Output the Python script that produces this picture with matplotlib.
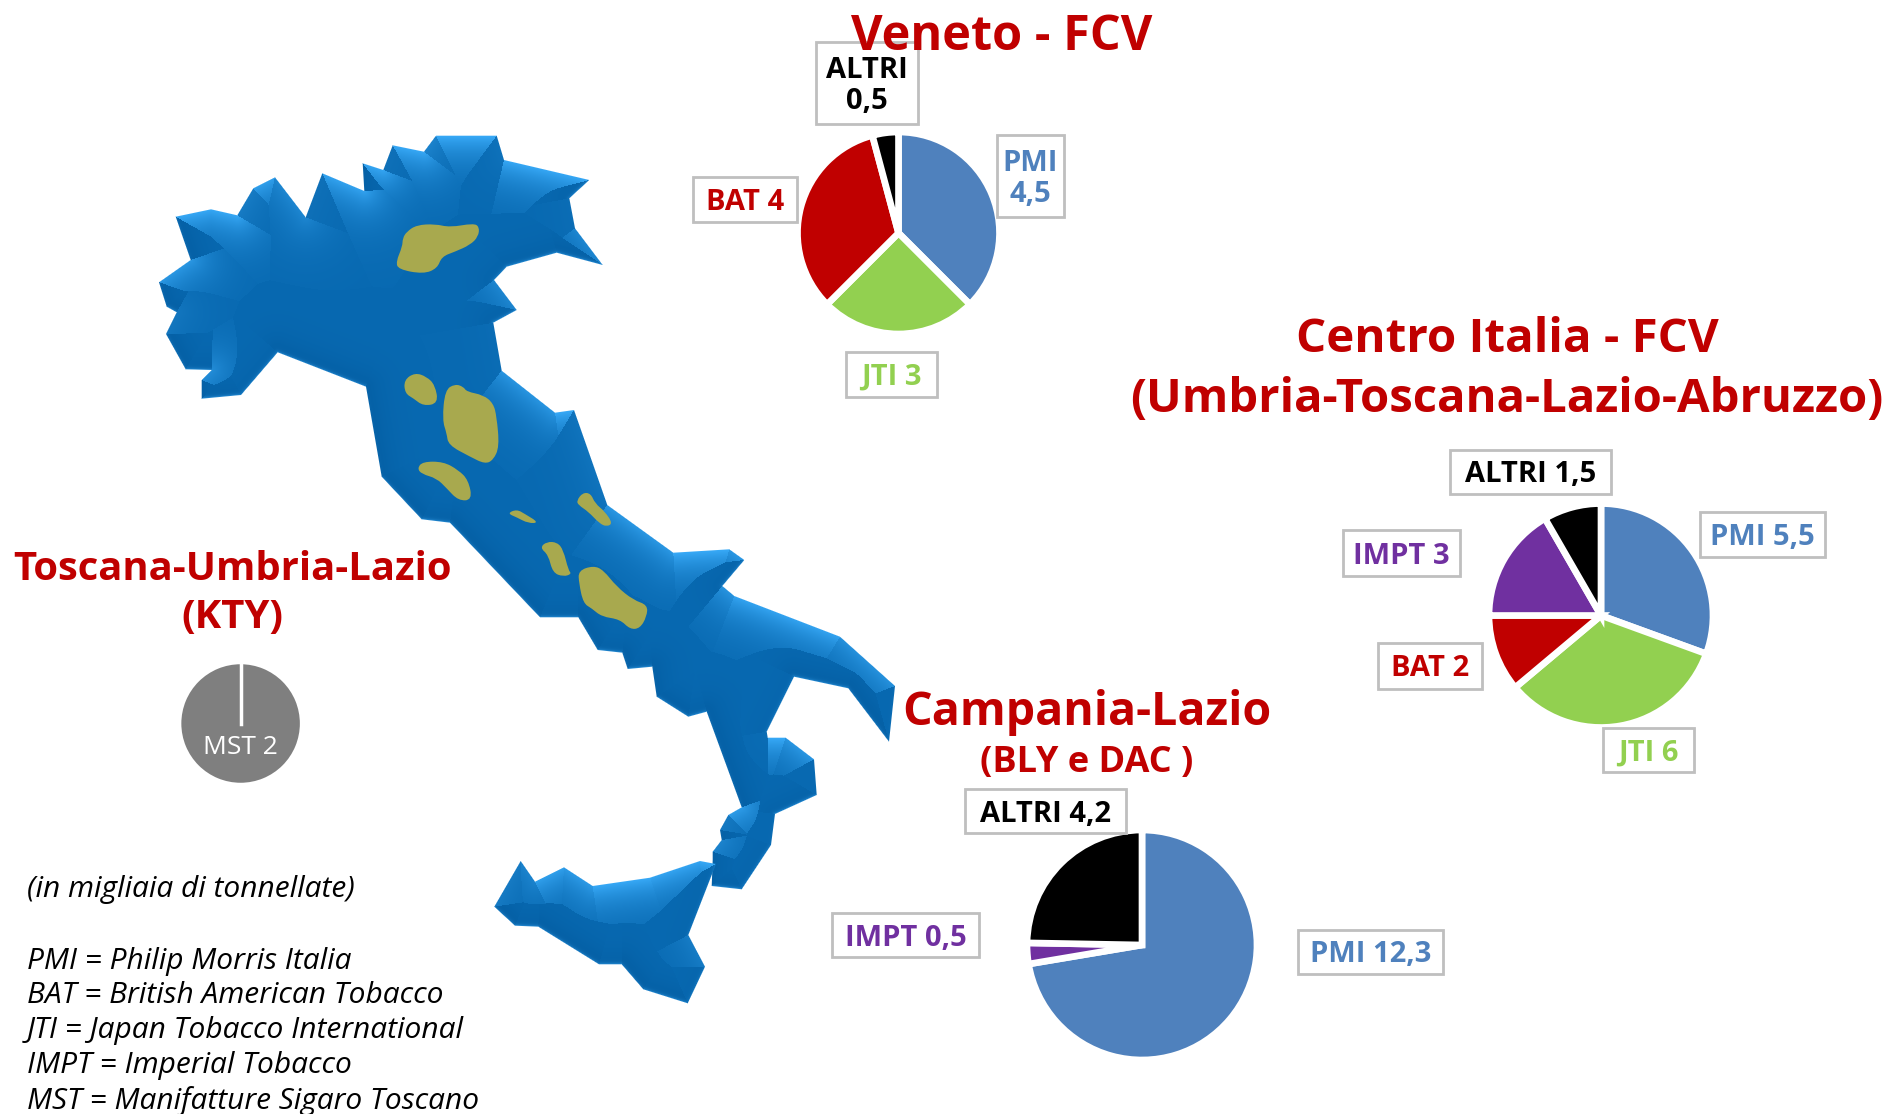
import numpy as np
import matplotlib
matplotlib.use("Agg")
import matplotlib.pyplot as plt
from matplotlib.path import Path
from matplotlib.patches import PathPatch, Rectangle

plt.rcParams['font.family'] = ['Open Sans', 'DejaVu Sans']

W, H = 1886, 1114

# Pie data
veneto_names = ['PMI', 'JTI', 'BAT', 'ALTRI']
veneto_vals = [4.5, 3, 4, 0.5]
centro_names = ['PMI', 'JTI', 'BAT', 'IMPT', 'ALTRI']
centro_vals = [5.5, 6, 2, 3, 1.5]
campania_names = ['PMI', 'IMPT', 'ALTRI']
campania_vals = [12.3, 0.5, 4.2]
toscana_names = ['MST']
toscana_vals = [2]

colors = {'PMI': '#4F81BD', 'JTI': '#92D050', 'BAT': '#C00000',
          'IMPT': '#7030A0', 'ALTRI': '#000000', 'MST': '#7F7F7F'}
RED = '#C00000'

legend_lines = ['PMI = Philip Morris Italia', 'BAT = British American Tobacco',
                'JTI = Japan Tobacco International', 'IMPT = Imperial Tobacco',
                'MST = Manifatture Sigaro Toscano']

# Map outline, traced in image pixels
italy = [(175.7, 216.7), (211, 209.3), (237.3, 215.3), (253.3, 188.3), (275, 177.3), (305.7, 217.3),
         (322.3, 173.3), (364.3, 191), (362.7, 163.3), (383.3, 170), (392.7, 145.3), (424, 151.7),
         (436, 135.7), (496.7, 135.7), (504, 160), (589.3, 180), (569.3, 198.3), (575, 228.3),
         (602.7, 265), (556.7, 252.7), (506.7, 266.7), (494, 280), (516.7, 310), (493.3, 322.7),
         (501.7, 370.7), (555, 412.7), (574, 410), (607.3, 505), (673.3, 552.7), (729.3, 549.3),
         (744.3, 560), (722.3, 586), (734.3, 596), (840, 636.7), (895, 686), (889, 741.7),
         (848.3, 688.3), (794, 676.7), (766.7, 731.7), (767.7, 737.7), (785.7, 737.7), (814, 759.3),
         (816.7, 795), (775, 814), (771, 845), (741.7, 889.3), (711.7, 886), (712.7, 860),
         (712.7, 851.7), (721.7, 840), (720, 830), (728.3, 815), (741.7, 807.3), (706.7, 711.7),
         (688.3, 716.7), (656.7, 696.7), (652.3, 666.7), (627.7, 669), (622.3, 652.7), (597.7, 650),
         (578.3, 617.3), (540, 617.3), (450, 522.7), (421.7, 519.3), (381.7, 476.7), (366, 386.7),
         (277.7, 352.3), (241, 395), (201.7, 398.7), (201.7, 380), (211.7, 370), (185.7, 369.3),
         (166, 334), (176.7, 312.3), (166.7, 306.7), (159, 282.3), (190.7, 260)]
sicily = [(520.7, 861), (535, 881.7), (564, 867.3), (592.7, 886), (650, 877.7), (700, 861), (716, 864),
          (688.3, 935), (705, 966.7), (687.7, 1003.3), (643.3, 989.3), (621.7, 964.3), (599, 964.3),
          (538.3, 926.7), (515, 925.7), (494.3, 906.7)]

blobs_north = [
    [(830, 365), (860, 345), (915, 342), (960, 352), (1030, 340), (1048, 350), (1045, 380), (1020, 405),
     (975, 425), (935, 440), (922, 475), (880, 492), (805, 478), (798, 455), (817, 410), (818, 385)],
    [(822, 810), (855, 788), (890, 800), (915, 825), (925, 880), (880, 888), (850, 865), (825, 850)],
    [(945, 840), (975, 822), (1000, 830), (1010, 845), (1060, 855), (1090, 880), (1100, 920), (1108, 1010),
     (1090, 1050), (1065, 1062), (1020, 1040), (955, 1005), (950, 970), (937, 930)],
    [(862, 1075), (878, 1055), (940, 1055), (985, 1080), (1015, 1110), (1027, 1170), (985, 1172), (950, 1135),
     (920, 1105), (875, 1092)],
    [(1132, 1210), (1160, 1198), (1185, 1212), (1227, 1238), (1195, 1240), (1160, 1222)],
    [(1340, 1172), (1358, 1148), (1382, 1150), (1395, 1180), (1425, 1205), (1448, 1240), (1430, 1250),
     (1408, 1240), (1375, 1205), (1345, 1185)],
]
blobs_south = [
    [(420, 143), (440, 125), (472, 127), (490, 150), (505, 210), (515, 222), (490, 230), (458, 218), (445, 165)],
    [(535, 212), (580, 197), (610, 210), (650, 260), (700, 300), (743, 315), (740, 350), (720, 385), (690, 388),
     (660, 358), (605, 350), (575, 325), (550, 310), (537, 250)],
]


def flip(pts):
    pts = np.asarray(pts, dtype=float)
    return np.column_stack([pts[:, 0], H - pts[:, 1]])


def draw_bevel(ax, poly):
    # colour each pixel from its nearest edge, gives the faceted look
    poly = np.asarray(poly, dtype=float)
    x0, y0 = np.floor(poly.min(axis=0)).astype(int) - 2
    x1, y1 = np.ceil(poly.max(axis=0)).astype(int) + 2
    xx, yy = np.meshgrid(np.arange(x0, x1) + 0.5, np.arange(y0, y1) + 0.5)
    pts = np.column_stack([xx.ravel(), yy.ravel()])
    inside = Path(poly).contains_points(pts).reshape(xx.shape)

    a = poly
    b = np.roll(poly, -1, axis=0)
    area = np.sum(a[:, 0] * b[:, 1] - b[:, 0] * a[:, 1])
    best = np.full(xx.shape, 1e9)
    nx = np.zeros(xx.shape)
    ny = np.zeros(xx.shape)
    for p, q in zip(a, b):
        d = q - p
        t = np.clip(((xx - p[0]) * d[0] + (yy - p[1]) * d[1]) / (d @ d), 0, 1)
        dist = np.hypot(xx - p[0] - t * d[0], yy - p[1] - t * d[1])
        n = np.array([d[1], -d[0]]) / np.hypot(*d) * np.sign(area)
        near = dist < best
        best[near] = dist[near]
        nx[near] = n[0]
        ny[near] = n[1]

    base = np.array([8, 105, 177]) / 255
    light = np.array([56, 170, 248]) / 255
    dark = np.array([2, 88, 155]) / 255
    up = np.clip(-ny, 0, 1) ** 1.6 * np.exp(-best / 24)
    down = (np.clip(ny, 0, 1) * 0.5 + np.clip(-nx, 0, 1) * 0.5) * np.exp(-best / 16) * (1 - np.clip(-ny, 0, 1))
    rim = np.clip(ny, 0, 1) * np.exp(-best / 1.5) * 0.7
    img = base[None, None, :] * np.ones(xx.shape + (3,))
    for i in range(3):
        img[..., i] += (light[i] - base[i]) * up + (dark[i] - base[i]) * down + (light[i] - base[i]) * rim
    alpha = np.where(inside, np.clip(best + 0.5, 0, 1), np.clip(0.5 - best, 0, 1))
    rgba = np.dstack([np.clip(img, 0, 1), alpha])
    ax.imshow(rgba, extent=(x0, x1, H - y1, H - y0), origin='upper', zorder=1, interpolation='nearest')


def draw_blob(ax, pts):
    # closed smooth curve through edge midpoints
    pts = np.asarray(pts, dtype=float)
    mids = (pts + np.roll(pts, -1, axis=0)) / 2
    verts = [mids[-1]]
    codes = [Path.MOVETO]
    for p, m in zip(pts, mids):
        verts += [p, m]
        codes += [Path.CURVE3, Path.CURVE3]
    ax.add_patch(PathPatch(Path(flip(verts), codes), fc='#A8A94E', ec='none', zorder=2))


def draw_pie(ax, vals, names, cx, cy, r, lw):
    ax.pie(vals, colors=[colors[n] for n in names], startangle=90, counterclock=False,
           center=(cx, H - cy), radius=r, wedgeprops={'edgecolor': 'white', 'linewidth': lw},
           frame=True)


def label_box(ax, txt, color, x0, y0, x1, y1, size=21):
    ax.add_patch(Rectangle((x0, H - y1), x1 - x0, y1 - y0, fc='white', ec='#BFBFBF', lw=2, zorder=4))
    ax.text((x0 + x1) / 2, H - (y0 + y1) / 2 - 3, txt, color=color, fontsize=size, fontweight='bold',
            ha='center', va='center', linespacing=1.12, zorder=5)


def val_txt(name, val, sep=' '):
    return f"{name}{sep}{val:g}".replace('.', ',')


fig = plt.figure(figsize=(W / 100, H / 100), dpi=100)
ax = fig.add_axes([0, 0, 1, 1])

# Map
draw_bevel(ax, italy)
draw_bevel(ax, sicily)
for blob in blobs_north:
    draw_blob(ax, np.array(blob) / 3 + [130, 110])
for blob in blobs_south:
    draw_blob(ax, np.array(blob) / 3 + [400, 500])

# Pies
draw_pie(ax, veneto_vals, veneto_names, 898.5, 233, 101, 4.8)
draw_pie(ax, centro_vals, centro_names, 1601, 615.5, 112, 4.8)
draw_pie(ax, campania_vals, campania_names, 1142, 945, 115, 4.8)
draw_pie(ax, toscana_vals, toscana_names, 240.6, 723.5, 61, 2.5)
ax.plot([240.6, 240.6], [H - 723.5, H - 660], color='white', lw=2.5, zorder=3)
ax.text(240.6, H - 748, val_txt('MST', toscana_vals[0]), color='white', fontsize=19, ha='center', va='center', zorder=5)

# Labels
label_box(ax, val_txt('PMI', veneto_vals[0], '\n'), colors['PMI'], 997, 135, 1064, 217)
label_box(ax, val_txt('JTI', veneto_vals[1]), colors['JTI'], 846, 352, 937, 397)
label_box(ax, val_txt('BAT', veneto_vals[2]), colors['BAT'], 693, 177, 797, 222)
label_box(ax, val_txt('ALTRI', veneto_vals[3], '\n'), colors['ALTRI'], 816, 42, 918, 124)

label_box(ax, val_txt('PMI', centro_vals[0]), colors['PMI'], 1700, 512, 1825, 557)
label_box(ax, val_txt('JTI', centro_vals[1]), colors['JTI'], 1603, 728, 1694, 772)
label_box(ax, val_txt('BAT', centro_vals[2]), colors['BAT'], 1378, 643, 1482, 689)
label_box(ax, val_txt('IMPT', centro_vals[3]), colors['IMPT'], 1343, 530, 1460, 576)
label_box(ax, val_txt('ALTRI', centro_vals[4]), colors['ALTRI'], 1450, 450, 1611, 494)

label_box(ax, val_txt('PMI', campania_vals[0]), colors['PMI'], 1298, 930, 1443, 974)
label_box(ax, val_txt('IMPT', campania_vals[1]), colors['IMPT'], 832, 913, 979, 957)
label_box(ax, val_txt('ALTRI', campania_vals[2]), colors['ALTRI'], 965, 789, 1126, 833)

# Titles
title_kw = dict(color=RED, fontweight='bold', ha='center', va='center', zorder=6)
ax.text(1002, H - 37, 'Veneto - FCV', fontsize=35, **title_kw)
ax.text(1507, H - 339, 'Centro Italia - FCV', fontsize=34.2, **title_kw)
ax.text(1507, H - 400, '(Umbria-Toscana-Lazio-Abruzzo)', fontsize=34, **title_kw)
ax.text(1087, H - 713, 'Campania-Lazio', fontsize=33.5, **title_kw)
ax.text(1087, H - 763, '(BLY e DAC )', fontsize=26, **title_kw)
ax.text(232, H - 570, 'Toscana-Umbria-Lazio', fontsize=28.8, **title_kw)
ax.text(232, H - 618, '(KTY)', fontsize=28.8, **title_kw)

# Notes
note_kw = dict(color='black', fontstyle='italic', fontsize=21.5, ha='left', va='center', zorder=5)
ax.text(27, H - 890, '(in migliaia di tonnellate)', **note_kw)
for i, line in enumerate(legend_lines):
    ax.text(27, H - (961 + i * 34.9), line, **note_kw)

ax.set_aspect('equal')
ax.set_xlim(0, W)
ax.set_ylim(0, H)
ax.axis('off')

fig.savefig('out.png', dpi=100)
